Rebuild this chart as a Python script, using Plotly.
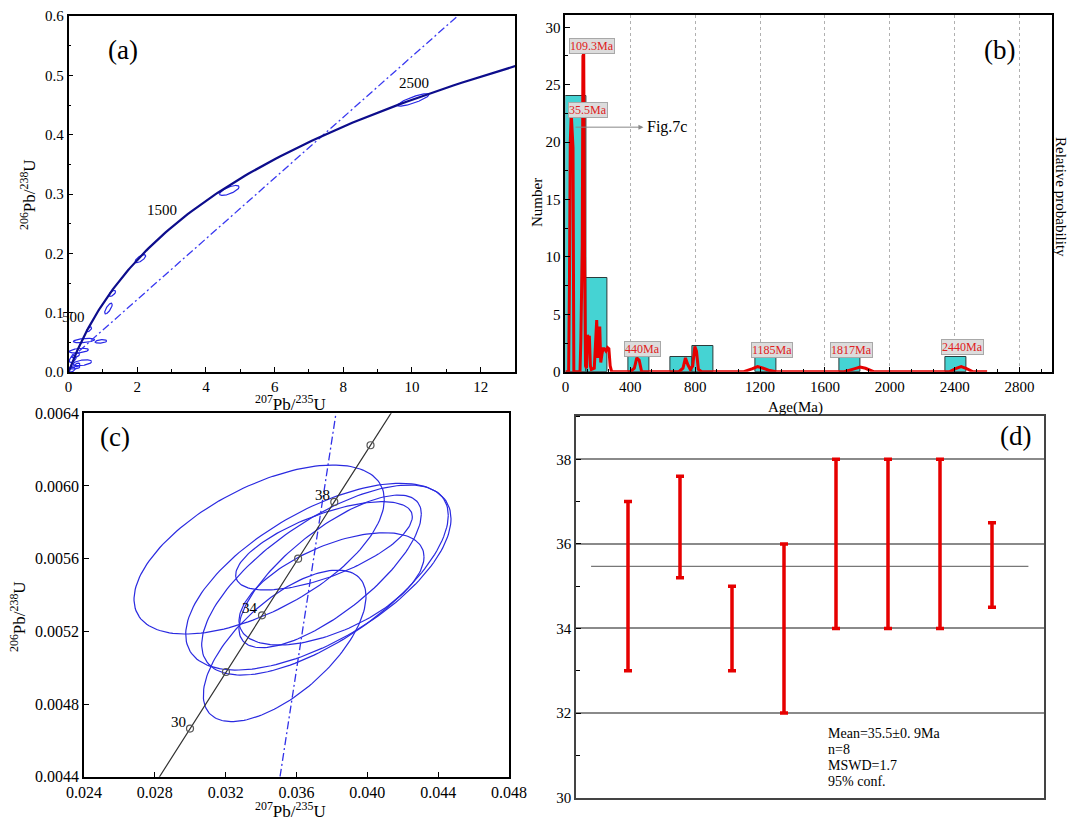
import numpy as np
import plotly.graph_objects as go

W, H = 1069, 821
FONT = "Liberation Serif"

# decay constants (1/yr)
L238 = 1.55125e-10
L235 = 9.8485e-10

# ---------------- (a) data ----------------
conc_ages_a = list(range(0, 2750, 20))          # Ma, reference curve
disc_a_x = [0.3, 11.33]
disc_a_y = [0.035, 0.60]
ell_a_cx = [10.04, 4.68, 2.09, 1.27, 1.16, 0.60, 0.45, 0.94, 0.30, 0.40, 0.20, 0.12, 0.18, 0.10, 0.25]
ell_a_cy = [0.4585, 0.306, 0.191, 0.1325, 0.107, 0.072, 0.053, 0.0515, 0.036, 0.0155, 0.028, 0.022, 0.008, 0.004, 0.012]
ell_a_sx = [0.455, 0.285, 0.155, 0.10, 0.11, 0.07, 0.31, 0.17, 0.28, 0.27, 0.12, 0.10, 0.15, 0.09, 0.08]
ell_a_sy = [0.0105, 0.0084, 0.0068, 0.005, 0.009, 0.004, 0.0037, 0.003, 0.004, 0.005, 0.004, 0.006, 0.003, 0.004, 0.003]
ell_a_rho = [0.85, 0.7, 0.7, 0.6, 0.75, 0.6, 0.4, 0.3, 0.4, 0.4, 0.5, 0.5, 0.3, 0.4, 0.4]
conc_labels_a = ["500", "1500", "2500"]
conc_labels_a_x = [0.14, 2.72, 10.05]
conc_labels_a_y = [0.093, 0.273, 0.487]

# ---------------- (b) data ----------------
bin_left = [0, 130, 390, 650, 780, 1170, 1690, 2340]
bin_width = 130
bin_count = [24, 8.2, 1.25, 1.25, 2.2, 1.25, 1.25, 1.25]
prob_x = [0, 20, 25, 30, 36, 42, 47, 52, 90, 95, 100, 104, 108, 113, 118, 124, 130, 136, 142, 148, 154,
          160, 178, 186, 193, 200, 206, 212, 218, 225, 232, 240, 250, 260, 268, 276, 285, 400, 425, 440,
          455, 470, 700, 725, 740, 755, 770, 785, 798, 808, 820, 840, 1100, 1150, 1185, 1220, 1260, 1300,
          1720, 1780, 1817, 1850, 1900, 2370, 2410, 2440, 2470, 2510, 2600]
prob_y = [0, 0, 8, 20, 22.5, 20.5, 19.5, 0, 0, 2.6, 10.6, 11, 27.5, 27.7, 10, 0.5, 0.3, 3.2, 3.0, 3.0, 0.5,
          0.2, 0.3, 3, 4.5, 1.2, 3.8, 3.8, 0.8, 1.5, 2.0, 2.0, 1.8, 2.1, 2.0, 0.5, 0, 0, 0.3, 1.2,
          1.0, 0, 0, 0.3, 1.2, 0.6, 0.2, 0.5, 2.2, 1.8, 0.2, 0, 0, 0.25, 0.45, 0.3, 0.1, 0,
          0, 0.25, 0.4, 0.3, 0, 0, 0.3, 0.45, 0.3, 0, 0]
peak_labels = ["109.3Ma", "35.5Ma", "440Ma", "1185Ma", "1817Ma", "2440Ma"]
peak_label_x = [164, 139, 475, 1275, 1763, 2450]
peak_label_y = [28.4, 22.8, 1.98, 1.85, 1.85, 2.15]

# ---------------- (c) data ----------------
conc_ages_c = [28 + 0.25 * i for i in range(57)]   # Ma, reference curve
marker_ages_c = [30, 32, 34, 36, 38, 40]
marker_labels_c = {30: "30", 34: "34", 38: "38"}
disc_c_x = [0.03507, 0.03823]
disc_c_y = [0.0044, 0.0064]
ell_c_cx = [0.033891, 0.037234, 0.037609, 0.037553, 0.037977, 0.035331, 0.03790]
ell_c_cy = [0.0056503, 0.005501, 0.0054825, 0.0056704, 0.0054338, 0.0051201, 0.00553]
ell_c_sx = [0.007067, 0.007491, 0.006963, 0.004987, 0.005224, 0.004594, 0.00515]
ell_c_sy = [0.000465, 0.000514, 0.000523, 0.000243, 0.000309, 0.000417, 0.00042]
ell_c_rho = [0.59, 0.62, 0.68, 0.66, 0.57, 0.65, 0.75]

# ---------------- (d) data ----------------
d_lo = [33.0, 35.2, 33.0, 32.0, 34.0, 34.0, 34.0, 34.5]
d_hi = [37.0, 37.6, 35.0, 36.0, 38.0, 38.0, 38.0, 36.5]
d_mean = 35.47
d_mean_span = [0.29, 8.7]
d_text = ["Mean=35.5±0. 9Ma", "n=8", "MSWD=1.7", "95% conf."]


def concordia(ages_ma):
    t = np.asarray(ages_ma, dtype=float) * 1e6
    return np.exp(L235 * t) - 1, np.exp(L238 * t) - 1


def ellipse(cx, cy, sx, sy, rho, n=160):
    t = np.linspace(0, 2 * np.pi, n)
    x = cx + sx * np.cos(t)
    y = cy + sy * (rho * np.cos(t) + np.sqrt(1 - rho ** 2) * np.sin(t))
    return x, y


fig = go.Figure()

# ---- (a)
for cx, cy, sx, sy, r in zip(ell_a_cx, ell_a_cy, ell_a_sx, ell_a_sy, ell_a_rho):
    ex, ey = ellipse(cx, cy, sx, sy, r)
    fig.add_trace(go.Scatter(x=ex, y=ey, mode="lines", line=dict(color="#2626e6", width=1.2),
                             xaxis="x", yaxis="y", hoverinfo="skip"))
fig.add_trace(go.Scatter(x=disc_a_x, y=disc_a_y, mode="lines",
                         line=dict(color="#3a3af0", width=1.3, dash="8px,3px,2px,3px"), xaxis="x", yaxis="y"))
cxa, cya = concordia(conc_ages_a)
fig.add_trace(go.Scatter(x=cxa, y=cya, mode="lines", line=dict(color="#0d0d8c", width=2.2),
                         xaxis="x", yaxis="y"))

# ---- (b)
fig.add_trace(go.Bar(x=[b + bin_width / 2 for b in bin_left], y=bin_count, width=bin_width,
                     marker=dict(color="#45d3d3", line=dict(color="#2b3b3b", width=1)),
                     xaxis="x2", yaxis="y2"))
fig.add_trace(go.Scatter(x=prob_x, y=prob_y, mode="lines", line=dict(color="#e60000", width=3),
                         xaxis="x2", yaxis="y2"))

# ---- (c)
for cx, cy, sx, sy, r in zip(ell_c_cx, ell_c_cy, ell_c_sx, ell_c_sy, ell_c_rho):
    ex, ey = ellipse(cx, cy, sx, sy, r)
    fig.add_trace(go.Scatter(x=ex, y=ey, mode="lines", line=dict(color="#2a2ae0", width=1.2),
                             xaxis="x3", yaxis="y3"))
fig.add_trace(go.Scatter(x=disc_c_x, y=disc_c_y, mode="lines",
                         line=dict(color="#3030e8", width=1.3, dash="8px,3px,2px,3px"), xaxis="x3", yaxis="y3"))
cxc, cyc = concordia(conc_ages_c)
fig.add_trace(go.Scatter(x=cxc, y=cyc, mode="lines", line=dict(color="#333333", width=1.2),
                         xaxis="x3", yaxis="y3"))
mxc, myc = concordia(marker_ages_c)
fig.add_trace(go.Scatter(x=mxc, y=myc, mode="markers",
                         marker=dict(symbol="circle-open", size=7, color="#555555", line=dict(width=1.2)),
                         xaxis="x3", yaxis="y3"))

# ---- (d)
fig.add_trace(go.Scatter(x=d_mean_span, y=[d_mean, d_mean], mode="lines",
                         line=dict(color="#777777", width=1.2), xaxis="x4", yaxis="y4"))
d_x = list(range(1, len(d_lo) + 1))
fig.add_trace(go.Scatter(x=d_x, y=[(a + b) / 2 for a, b in zip(d_lo, d_hi)], mode="markers",
                         marker=dict(size=0.1, color="rgba(0,0,0,0)"),
                         error_y=dict(type="data", array=[(b - a) / 2 for a, b in zip(d_lo, d_hi)],
                                      color="#e60000", thickness=3.5, width=4),
                         xaxis="x4", yaxis="y4"))


def px2paper_x(px):
    return px / W


def px2paper_y(py):
    return 1 - py / H


tickfont = dict(family=FONT, size=15, color="black")
common = dict(showline=True, mirror=True, linecolor="black", ticks="inside", tickcolor="black",
              tickfont=tickfont, zeroline=False, showgrid=False, automargin=False)

layout = dict(
    width=W, height=H, margin=dict(l=0, r=0, t=0, b=0, autoexpand=False),
    paper_bgcolor="white", plot_bgcolor="white", showlegend=False, bargap=0,
    xaxis=dict(domain=[px2paper_x(68.6), px2paper_x(515)], anchor="y", range=[0, 13], dtick=2,
               linewidth=1.5, ticklen=5, minor=dict(dtick=1, ticks="inside", ticklen=3, tickcolor="black"),
               **common),
    yaxis=dict(domain=[px2paper_y(372), px2paper_y(16)], anchor="x", range=[0, 0.6], dtick=0.1,
               tickformat=".1f", linewidth=1.5, ticklen=5,
               minor=dict(dtick=0.05, ticks="inside", ticklen=3, tickcolor="black"), **common),
    xaxis2=dict(domain=[px2paper_x(565.4), px2paper_x(1052)], anchor="y2", range=[0, 3000], dtick=400,
                linewidth=2, ticklen=5, minor=dict(dtick=400 / 3, ticks="inside", ticklen=3,
                                                   tickcolor="black", showgrid=False),
                **{**common, "showgrid": True}, gridcolor="#b0b0b0", griddash="3px,3px", gridwidth=1),
    yaxis2=dict(domain=[px2paper_y(371.7), px2paper_y(15)], anchor="x2", range=[0, 31.07], dtick=5,
                linewidth=2, ticklen=5, minor=dict(dtick=2.5, ticks="inside", ticklen=3, tickcolor="black"),
                **common),
    xaxis3=dict(domain=[px2paper_x(84), px2paper_x(509)], anchor="y3", range=[0.024, 0.048], dtick=0.004,
                tickformat=".3f", linewidth=1.5, ticklen=5, **{**common, "tickfont": dict(family=FONT, size=16, color="black")}),
    yaxis3=dict(domain=[px2paper_y(776.7), px2paper_y(413.3)], anchor="x3", range=[0.0044, 0.0064],
                dtick=0.0004, tickformat=".4f", linewidth=1.5, ticklen=5,
                **{**common, "tickfont": dict(family=FONT, size=16, color="black")}),
    xaxis4=dict(domain=[px2paper_x(576), px2paper_x(1044)], anchor="y4", range=[0, 9],
                showticklabels=False, showline=True, mirror=True, linecolor="#444444", linewidth=1.5,
                ticks="", zeroline=False, showgrid=False, automargin=False),
    yaxis4=dict(domain=[px2paper_y(797.7), px2paper_y(415.7)], anchor="x4", range=[30, 39.03], dtick=2,
                linewidth=1.5, ticklen=5, gridcolor="#8a8a8a", gridwidth=1.5,
                minor=dict(dtick=1, ticks="inside", ticklen=4, tickcolor="black", showgrid=False),
                **{**common, "showgrid": True, "linecolor": "#444444"}),
)
fig.update_layout(**layout)


def ann(text, px, py, size=15, angle=0, color="black", xanchor="center", yanchor="middle", **kw):
    return dict(text=text, x=px / W, y=1 - py / H, xref="paper", yref="paper", showarrow=False,
                font=dict(family=FONT, size=size, color=color), textangle=angle,
                xanchor=xanchor, yanchor=yanchor, **kw)


iso = "<sup>206</sup>Pb/<sup>238</sup>U"
iso2 = "<sup>207</sup>Pb/<sup>235</sup>U"
annotations = [
    ann("(a)", 123, 50, size=27),
    ann("(b)", 999, 50, size=27),
    ann("(c)", 115, 437, size=27),
    ann("(d)", 1015, 436, size=27),
    ann(iso, 28, 195, size=17, angle=-90),
    ann(iso2, 290, 403, size=17),
    ann("Number", 537, 203, size=15, angle=-90),
    ann("Relative probability", 1061, 197, size=15, angle=90),
    ann("Age(Ma)", 795, 408, size=15),
    ann(iso, 18, 617, size=17, angle=-90),
    ann(iso2, 290, 810, size=17),
]
# concordia age labels (a)
for t, x, y in zip(conc_labels_a, conc_labels_a_x, conc_labels_a_y):
    annotations.append(dict(text=t, x=x, y=y, xref="x", yref="y", showarrow=False,
                            font=dict(family=FONT, size=15, color="black")))
# peak labels (b)
for t, x, y in zip(peak_labels, peak_label_x, peak_label_y):
    annotations.append(dict(text=t, x=x, y=y, xref="x2", yref="y2", showarrow=False,
                            font=dict(family=FONT, size=12, color="#e02020"),
                            bgcolor="#dcdcdc", bordercolor="#a8a8a8", borderwidth=1, borderpad=0))
# Fig.7c arrow
annotations.append(dict(text="", x=481, y=21.3, xref="x2", yref="y2", ax=53, ay=21.3,
                        axref="x2", ayref="y2", showarrow=True, arrowhead=2, arrowsize=1,
                        arrowwidth=1, arrowcolor="#888888"))
annotations.append(dict(text="Fig.7c", x=490, y=21.3, xref="x2", yref="y2", showarrow=False,
                        xanchor="left", font=dict(family=FONT, size=16, color="black")))
# marker labels (c)
for age, (mx, my) in zip(marker_ages_c, zip(mxc, myc)):
    if age in marker_labels_c:
        annotations.append(dict(text=marker_labels_c[age], x=mx, y=my, xref="x3", yref="y3",
                                showarrow=False, xanchor="right", yanchor="bottom", xshift=-2, yshift=-3,
                                font=dict(family=FONT, size=15, color="black")))
# text (d)
for i, t in enumerate(d_text):
    annotations.append(ann(t, 826, 733 + i * 16.3, size=14, xanchor="left"))

fig.update_layout(annotations=annotations)
fig.write_html("out.html", config={"displayModeBar": False},
               post_script="document.body.style.margin='0px';document.body.style.overflow='hidden';")
